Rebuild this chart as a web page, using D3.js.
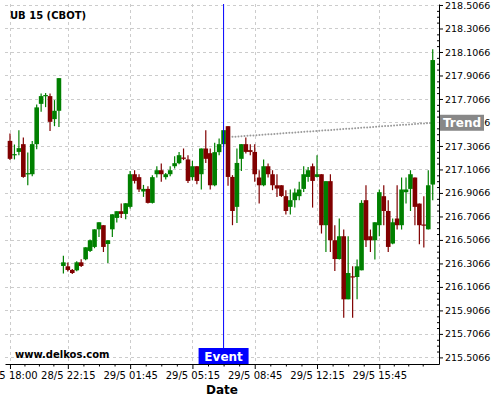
<!DOCTYPE html>
<html>
<head>
<meta charset="utf-8">
<script src="https://cdn.jsdelivr.net/npm/d3@7"></script>
<style>
  html, body { margin: 0; padding: 0; background: #fff; }
  svg { display: block; font-family: "DejaVu Sans", sans-serif; }
</style>
</head>
<body>
<script>
// ---- data ----
const title = "UB 15 (CBOT)";
const xTickLabels = ["28/5 18:00", "28/5 22:15", "29/5 01:45", "29/5 05:15", "29/5 08:45", "29/5 12:15", "29/5 15:45"];
const xTickIndex = [0, 13, 27, 41, 55, 69, 83];
const yTicks = [215.5066, 215.7066, 215.9066, 216.1066, 216.3066, 216.5066, 216.7066, 216.9066,
                217.1066, 217.3066, 217.5066, 217.7066, 217.9066, 218.1066, 218.3066, 218.5066];

const open = [
  217.350, 217.231, 217.256, 217.322, 217.069, 217.066, 217.322, 217.665, 217.731, 217.731, 217.535, 217.606,
  216.285, 216.282, 216.251, 216.248, 216.316, 216.342, 216.413, 216.447, 216.597, 216.632, 216.472, 216.597,
  216.694, 216.751, 216.728, 216.788, 217.066, 217.041, 216.919, 216.941, 216.822, 217.066, 217.100, 217.041,
  217.066, 217.134, 217.160, 217.208, 217.192, 217.041, 217.134, 217.066, 217.285, 217.245, 216.972, 217.254,
  217.322, 217.475, 217.043, 216.788, 217.197, 217.322, 217.271, 217.256, 217.038, 216.972, 217.134, 217.066,
  216.972, 216.972, 216.879, 216.788, 216.845, 216.879, 216.941, 217.043, 217.134, 217.043, 217.066, 216.632,
  217.007, 216.504, 216.344, 216.538, 216.001, 216.197, 216.191, 216.248, 216.845, 216.538, 216.504, 216.632,
  216.879, 216.753, 216.476, 216.689, 216.632, 216.913, 216.941, 217.038, 216.816, 216.638, 216.597, 216.978
];
const high = [
  217.413, 217.319, 217.441, 217.379, 217.251, 217.348, 217.660, 217.754, 217.757, 217.754, 217.697, 217.884,
  216.373, 216.314, 216.259, 216.325, 216.342, 216.444, 216.510, 216.597, 216.657, 216.632, 216.504, 216.725,
  216.751, 216.816, 216.819, 217.094, 217.100, 217.066, 216.975, 216.964, 217.058, 217.134, 217.157, 217.077,
  217.134, 217.220, 217.256, 217.285, 217.228, 217.180, 217.134, 217.285, 217.441, 217.285, 217.333, 217.371,
  217.441, 217.475, 217.058, 217.285, 217.322, 217.379, 217.322, 217.322, 217.100, 217.192, 217.157, 217.100,
  217.066, 216.972, 216.930, 216.936, 216.944, 217.001, 217.134, 217.128, 217.157, 217.228, 217.066, 217.007,
  217.066, 216.632, 216.689, 216.595, 216.538, 216.282, 216.339, 216.845, 216.972, 216.595, 216.657, 216.936,
  216.972, 216.845, 216.689, 216.972, 217.038, 217.038, 217.100, 217.038, 216.816, 216.879, 217.100, 218.129
];
const low = [
  217.186, 217.192, 217.228, 217.035, 216.972, 217.049, 217.279, 217.597, 217.637, 217.435, 217.475, 217.469,
  216.220, 216.237, 216.216, 216.239, 216.276, 216.333, 216.404, 216.436, 216.532, 216.404, 216.310, 216.532,
  216.655, 216.694, 216.683, 216.774, 216.987, 216.915, 216.873, 216.816, 216.816, 217.038, 217.001, 217.021,
  217.049, 217.115, 217.151, 217.186, 216.992, 217.015, 216.981, 216.936, 217.162, 216.936, 216.964, 217.228,
  217.299, 216.967, 216.632, 216.651, 217.094, 217.243, 217.228, 217.001, 216.816, 216.964, 217.038, 216.930,
  216.873, 216.873, 216.723, 216.723, 216.782, 216.845, 216.915, 217.001, 216.782, 217.038, 216.561, 216.404,
  216.404, 216.242, 216.339, 215.845, 216.001, 215.845, 216.001, 216.248, 216.447, 216.404, 216.339, 216.538,
  216.632, 216.404, 216.470, 216.595, 216.595, 216.816, 216.753, 216.632, 216.470, 216.442, 216.595, 216.845
];
const close = [
  217.197, 217.237, 217.288, 217.043, 217.075, 217.322, 217.635, 217.731, 217.740, 217.512, 217.606, 217.884,
  216.316, 216.251, 216.225, 216.316, 216.285, 216.444, 216.504, 216.597, 216.657, 216.447, 216.504, 216.725,
  216.751, 216.728, 216.819, 217.066, 217.009, 216.936, 216.941, 216.822, 217.041, 217.100, 217.066, 217.066,
  217.100, 217.160, 217.228, 217.197, 217.009, 217.134, 217.009, 217.285, 217.197, 216.972, 217.254, 217.322,
  217.441, 217.043, 216.753, 217.162, 217.322, 217.256, 217.256, 217.066, 216.972, 217.134, 217.066, 216.972,
  216.944, 216.881, 216.753, 216.845, 216.910, 216.936, 217.066, 217.100, 217.009, 217.066, 216.632, 217.007,
  216.504, 216.344, 216.538, 216.001, 216.225, 216.188, 216.282, 216.822, 216.504, 216.504, 216.657, 216.913,
  216.753, 216.447, 216.657, 216.632, 216.936, 216.936, 217.066, 216.788, 216.632, 216.629, 216.972, 218.038
];

const eventIndex = 48;
const eventLabel = "Event";
const trendIndex = [50, 95];
const trendValue = [217.384, 217.504];
const trendLabel = "Trend";
const watermark = "www.delkos.com";
const xTitle = "Date";

// ---- layout ----
const W = 500, H = 400;
const L = 5, R = 439, T = 4, B = 364;

const svg = d3.select("body").append("svg").attr("width", W).attr("height", H);

const x = d3.scaleLinear().domain([-1.12, 96.41]).range([L, R]);
const y = d3.scaleLinear().domain([215.4504, 218.5151]).range([B, T]);

// grid
const grid = svg.append("g").attr("stroke", "#cccccc").attr("stroke-width", 1)
  .attr("stroke-dasharray", "3,3").attr("shape-rendering", "crispEdges");
grid.selectAll("line.h").data(yTicks).join("line").attr("class", "h")
  .attr("x1", L).attr("x2", R).attr("y1", d => Math.round(y(d)) + 0.5).attr("y2", d => Math.round(y(d)) + 0.5);
grid.selectAll("line.v").data(xTickIndex).join("line").attr("class", "v")
  .attr("y1", T).attr("y2", B).attr("x1", d => Math.round(x(d)) + 0.5).attr("x2", d => Math.round(x(d)) + 0.5);

// minor x ticks
const minorX = [];
for (let k = 0; k < xTickIndex.length - 1; k++) {
  const a = xTickIndex[k], b = xTickIndex[k + 1];
  for (let j = 1; j < 4; j++) minorX.push(a + (b - a) * j / 4);
}
const lastMajor = xTickIndex[xTickIndex.length - 1];
for (let j = 1; j <= 3; j++) minorX.push(lastMajor + 3.25 * j);

// minor y ticks
const minorY = [];
for (let k = 0; k < yTicks.length - 1; k++) {
  for (let j = 1; j < 4; j++) minorY.push(yTicks[k] + (yTicks[k + 1] - yTicks[k]) * j / 4);
}

// trend line (behind candles)
svg.append("line")
  .attr("x1", x(trendIndex[0])).attr("y1", y(trendValue[0]))
  .attr("x2", x(trendIndex[1])).attr("y2", y(trendValue[1]))
  .attr("stroke", "#9a9a9a").attr("stroke-width", 2)
  .attr("stroke-linecap", "round").attr("stroke-dasharray", "0,3");

// candles
const idx = d3.range(open.length);
const green = "#008000", red = "#800000";
const col = i => close[i] >= open[i] ? green : red;
const cg = svg.append("g");
cg.selectAll("line").data(idx).join("line")
  .attr("x1", i => x(i)).attr("x2", i => x(i))
  .attr("y1", i => y(high[i])).attr("y2", i => y(low[i]))
  .attr("stroke", col).attr("stroke-width", 1.2);
const bw = 4.6;
cg.selectAll("rect").data(idx).join("rect")
  .attr("x", i => x(i) - bw / 2).attr("width", bw)
  .attr("y", i => Math.min(y(open[i]), y(close[i])))
  .attr("height", i => Math.max(1.2, Math.abs(y(open[i]) - y(close[i]))))
  .attr("fill", col);

// event line
svg.append("line")
  .attr("x1", x(eventIndex)).attr("x2", x(eventIndex))
  .attr("y1", T).attr("y2", B)
  .attr("stroke", "#0000ff").attr("stroke-width", 1);

// axes
const xAxis = d3.axisBottom(x).tickValues(xTickIndex)
  .tickFormat((d, i) => xTickLabels[i]).tickSize(5).tickSizeOuter(0).tickPadding(3);
const gx = svg.append("g").attr("transform", `translate(0,${B})`).call(xAxis);
gx.selectAll("text").attr("font-size", 10).attr("font-family", "DejaVu Sans").attr("fill", "#000");
gx.select(".domain").attr("stroke", "#000");
gx.selectAll(".tick line").attr("stroke", "#000");
svg.append("g").attr("transform", `translate(0,${B})`)
  .call(d3.axisBottom(x).tickValues(minorX).tickFormat("").tickSize(2.5).tickSizeOuter(0))
  .call(g => g.select(".domain").remove());

const yAxis = d3.axisRight(y).tickValues(yTicks).tickFormat(d3.format(".4f"))
  .tickSize(4).tickSizeOuter(0).tickPadding(2);
const gy = svg.append("g").attr("transform", `translate(${R},0)`).call(yAxis);
gy.selectAll("text").attr("font-size", 9.5).attr("font-family", "DejaVu Sans").attr("fill", "#000");
gy.select(".domain").attr("stroke", "#000");
svg.append("g").attr("transform", `translate(${R},0)`)
  .call(d3.axisLeft(y).tickValues(minorY).tickFormat("").tickSize(2).tickSizeOuter(0))
  .call(g => g.select(".domain").remove());

// labels
svg.append("text").attr("x", 10).attr("y", 18.5).attr("font-size", 10)
  .attr("font-weight", "bold").text(title);
svg.append("text").attr("x", 15).attr("y", 357.5).attr("font-size", 10)
  .attr("font-weight", "bold").text(watermark);
svg.append("text").attr("x", 222).attr("y", 394).attr("text-anchor", "middle")
  .attr("font-size", 12).attr("font-weight", "bold").text(xTitle);

// event label
const ex = x(eventIndex);
svg.append("rect").attr("x", ex - 25).attr("y", B - 16).attr("width", 50).attr("height", 16).attr("fill", "#0000ff");
svg.append("text").attr("x", ex).attr("y", B - 3.5).attr("text-anchor", "middle")
  .attr("font-size", 12).attr("font-weight", "bold").attr("fill", "#fff").text(eventLabel);

// trend label
const ty = y(trendValue[1]);
svg.append("rect").attr("x", R + 1).attr("y", ty - 8).attr("width", 44).attr("height", 16).attr("fill", "#888888");
svg.append("text").attr("x", R + 23).attr("y", ty + 4.5).attr("text-anchor", "middle")
  .attr("font-size", 12).attr("font-weight", "bold").attr("fill", "#fff").text(trendLabel);
</script>
</body>
</html>
